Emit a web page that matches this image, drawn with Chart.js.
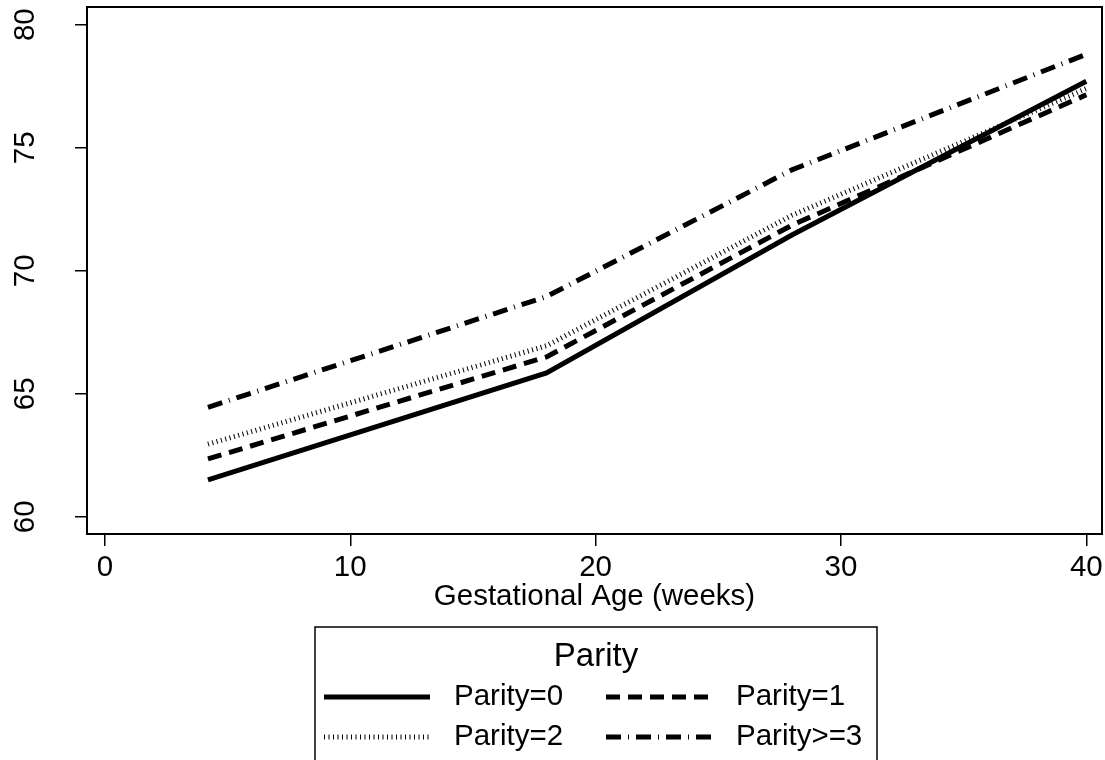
<!DOCTYPE html>
<html>
<head>
<meta charset="utf-8">
<script src="https://cdn.jsdelivr.net/npm/chart.js@4"></script>
<style>
  html, body { margin: 0; padding: 0; background: #fff; }
  #wrap { width: 1105px; height: 760px; }
</style>
</head>
<body>
<div id="wrap"><canvas id="chart"></canvas></div>
<script>
// --- data ---
const weeks = [4.2, 18, 28, 40];
const parity0 = [61.5, 65.85, 71.45, 77.7];
const parity1 = [62.35, 66.5, 71.85, 77.15];
const parity2 = [62.95, 66.95, 72.25, 77.4];
const parity3 = [64.45, 68.95, 74.1, 78.8];
const seriesLabels = ['Parity=0', 'Parity=1', 'Parity=2', 'Parity>=3'];
const xTicks = [0, 10, 20, 30, 40];
const yTicks = [60, 65, 70, 75, 80];

const FONT = "'Liberation Sans', Arial, sans-serif";
const FS = 29.5;
const pts = vals => vals.map((v, i) => ({ x: weeks[i], y: v }));

// plot frame + legend box (Stata style)
const framePlugin = {
    id: 'frame',
    afterDraw(chart) {
        const { ctx, chartArea: a } = chart;
        ctx.save();
        ctx.strokeStyle = '#000';
        ctx.lineWidth = 2;
        ctx.strokeRect(a.left, a.top, a.right - a.left, a.bottom - a.top);

        // legend
        const box = { left: 315, top: 627, right: 877 };
        ctx.lineWidth = 1.5;
        ctx.beginPath();
        ctx.moveTo(box.left, 770); ctx.lineTo(box.left, box.top);
        ctx.lineTo(box.right, box.top); ctx.lineTo(box.right, 770);
        ctx.stroke();
        ctx.fillStyle = '#000';
        ctx.textBaseline = 'middle';
        ctx.textAlign = 'center';
        ctx.font = '33px ' + FONT;
        ctx.fillText('Parity', (box.left + box.right) / 2, 657);
        ctx.font = FS + 'px ' + FONT;
        ctx.textAlign = 'left';
        const slots = [
            { ds: 0, x: 324, y: 697 }, { ds: 1, x: 606, y: 697 },
            { ds: 2, x: 324, y: 737 }, { ds: 3, x: 606, y: 737 }
        ];
        slots.forEach(s => {
            const d = chart.data.datasets[s.ds];
            ctx.save();
            ctx.lineWidth = d.borderWidth;
            ctx.setLineDash(d.borderDash || []);
            ctx.lineCap = 'butt';
            ctx.beginPath();
            ctx.moveTo(s.x, s.y); ctx.lineTo(s.x + 106, s.y);
            ctx.stroke();
            ctx.restore();
            ctx.fillText(d.label, s.x + 130, s.y);
        });
        ctx.restore();
    }
};

const ctx = document.getElementById('chart').getContext('2d');
const chart = new Chart(ctx, {
    type: 'line',
    data: {
        datasets: [
            { label: seriesLabels[0], data: pts(parity0), borderColor: '#000', borderWidth: 5, borderDash: [] },
            { label: seriesLabels[1], data: pts(parity1), borderColor: '#000', borderWidth: 5, borderDash: [14, 8] },
            { label: seriesLabels[2], data: pts(parity2), borderColor: '#000', borderWidth: 5, borderDash: [1, 3.5] },
            { label: seriesLabels[3], data: pts(parity3), borderColor: '#000', borderWidth: 5, borderDash: [15, 7, 1, 7] }
        ]
    },
    options: {
        responsive: true,
        maintainAspectRatio: false,
        animation: false,
        layout: { padding: { left: 0, top: 7, right: 3, bottom: 146 } },
        elements: { point: { radius: 0 }, line: { tension: 0, fill: false } },
        plugins: { legend: { display: false }, tooltip: { enabled: false } },
        scales: {
            x: {
                type: 'linear', min: -0.73, max: 40.64,
                afterBuildTicks: s => { s.ticks = xTicks.map(v => ({ value: v })); },
                afterFit: s => { s.height = 80; s.paddingLeft = 0; s.paddingRight = 0; },
                grid: { display: true, drawOnChartArea: false, drawTicks: true, tickLength: 12, color: '#000', lineWidth: 1.5 },
                border: { display: false },
                ticks: { color: '#000', font: { family: FONT, size: FS }, padding: 4, maxRotation: 0 },
                title: { display: true, text: 'Gestational Age (weeks)', color: '#000', font: { family: FONT, size: FS, lineHeight: 1.15 }, padding: 0 }
            },
            y: {
                type: 'linear', min: 59.3, max: 80.72,
                afterBuildTicks: s => { s.ticks = yTicks.map(v => ({ value: v })); },
                afterFit: s => { s.width = 87; s.paddingTop = 0; s.paddingBottom = 0; },
                grid: { display: true, drawOnChartArea: false, drawTicks: true, tickLength: 12, color: '#000', lineWidth: 1.5 },
                border: { display: false },
                ticks: { color: '#000', font: { family: FONT, size: FS }, padding: 33, minRotation: 90, maxRotation: 90, crossAlign: 'center' }
            }
        }
    },
    plugins: [framePlugin]
});
</script>
</body>
</html>
